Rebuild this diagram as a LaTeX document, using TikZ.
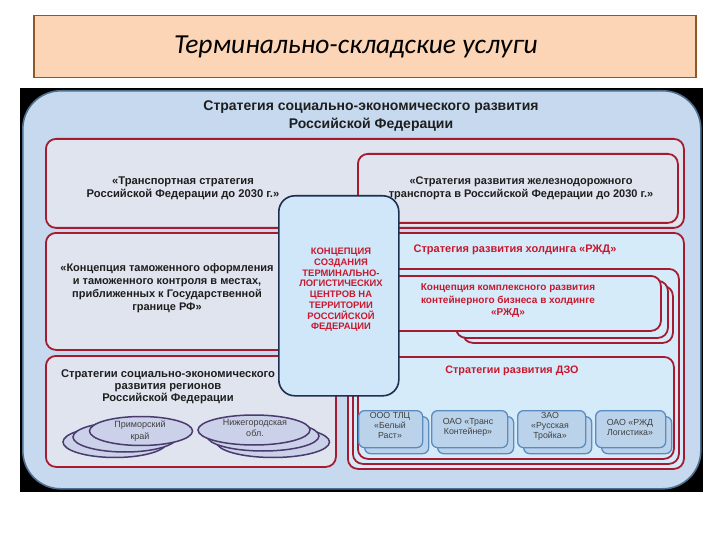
\documentclass[tikz,border=0pt]{standalone}
\usepackage{fontspec}
\setmainfont{Liberation Sans}
\newfontfamily\titlefont{Carlito}
\newfontfamily\condfont{Liberation Sans}
\usetikzlibrary{shapes.geometric}
\definecolor{peach}{HTML}{FBD5B5}
\definecolor{brownb}{HTML}{8B5A2B}
\definecolor{bigfill}{HTML}{C6D9EF}
\definecolor{bigline}{HTML}{4F6F8F}
\definecolor{boxred}{HTML}{A51C30}
\definecolor{txtred}{HTML}{C8182E}
\definecolor{grayfill}{HTML}{DFE4EE}
\definecolor{cyanfill}{HTML}{D5EBFA}
\definecolor{centfill}{HTML}{CFE7F8}
\definecolor{navy}{HTML}{1F2F50}
\definecolor{ellfill}{HTML}{CBD1E8}
\definecolor{elline}{HTML}{4A3A6E}
\definecolor{smfill}{HTML}{BAD3EA}
\definecolor{smline}{HTML}{5B8CC0}
\definecolor{hdr}{HTML}{1E1E1E}
\newcommand\boxat[6]{\node[#2, anchor=north west, inner sep=0pt, minimum width={(#5-#3)*1pt}, minimum height={(#6-#4)*1pt}] (#1) at (#3,#4) {};}
\tikzset{
  titlebox/.style={draw=brownb, line width=1.5pt, fill=peach},
  bigbox/.style={draw=bigline, line width=1.6pt, fill=bigfill, rounded corners=38pt},
  redgray/.style={draw=boxred, line width=1.8pt, fill=grayfill, rounded corners=10pt},
  redcyan/.style={draw=boxred, line width=1.8pt, fill=cyanfill, rounded corners=10pt},
  centbox/.style={draw=navy, line width=1.6pt, fill=centfill, rounded corners=16pt},
  oval/.style={ellipse, draw=elline, line width=1.5pt, fill=ellfill, inner sep=0pt},
  smbox/.style={draw=smline, line width=1.3pt, fill=smfill, rounded corners=6pt},
  hdrtxt/.style={align=center, text=hdr, inner sep=0pt},
  redtxt/.style={align=center, text=txtred, inner sep=0pt},
  smtxt/.style={align=center, text=hdr!85, inner sep=0pt, font=\fontsize{8.8}{10}\selectfont},
}
\begin{document}
\begin{tikzpicture}[x=1pt,y=-1pt]
\useasboundingbox (0,0) rectangle (720,540);
\fill[white] (0,0) rectangle (720,540);
% title
\boxat{title}{titlebox}{33}{15}{695}{77}
\node[inner sep=0pt, font=\titlefont\itshape\fontsize{27.5}{30}\selectfont] (titletxt) at (356,47) {Терминально-складские услуги};
% picture background
\fill[black] (20,88) rectangle (703,492);
\boxat{big}{bigbox}{22}{90}{700}{488}
\node[hdrtxt, font=\condfont\bfseries\fontsize{14}{18}\selectfont] (hdr) at (371,116) {Стратегия социально-экономического развития\\Российской Федерации};
% row 1
\boxat{r1}{redgray}{45}{138}{683}{227}
\boxat{r1r}{redgray}{357}{153}{677}{222}
\node[hdrtxt, font=\condfont\bfseries\fontsize{11.2}{12.8}\selectfont] (t1) at (183,188) {«Транспортная стратегия\\Российской Федерации до 2030 г.»};
\node[hdrtxt, font=\condfont\bfseries\fontsize{11}{12.8}\selectfont] (t1r) at (521,188) {«Стратегия развития железнодорожного\\транспорта в Российской Федерации до 2030 г.»};
% row 2 left
\boxat{r2l}{redgray}{45}{232}{338}{349}
\node[hdrtxt, font=\condfont\bfseries\fontsize{11}{13.2}\selectfont] (t2l) at (167,288) {«Концепция таможенного оформления\\и таможенного контроля в местах,\\приближенных к Государственной\\границе РФ»};
% right column
\boxat{ra}{redcyan}{347}{232}{683}{468}
\node[redtxt, font=\condfont\bfseries\fontsize{11}{12.5}\selectfont] (tra) at (515,250) {Стратегия развития холдинга «РЖД»};
\boxat{rb}{redcyan}{352}{268}{678}{463}
\boxat{k3}{redcyan}{462}{285}{672}{342}
\boxat{k2}{redcyan}{455}{280}{667}{337}
\boxat{k1}{redcyan}{356}{275}{660}{330}
\node[redtxt, font=\condfont\bfseries\fontsize{10}{12.5}\selectfont] (tk) at (508,301) {Концепция комплексного развития\\контейнерного бизнеса в холдинге\\«РЖД»};
\boxat{dzo}{redcyan}{357}{356}{673}{458}
\node[redtxt, font=\condfont\bfseries\fontsize{10.8}{12.5}\selectfont] (tdzo) at (512,371) {Стратегии развития ДЗО};
% small boxes
\boxat{s1b}{smbox}{364}{416}{428}{453}
\boxat{s1}{smbox}{358}{410}{422}{447}
\boxat{s2b}{smbox}{437}{416}{513}{453}
\boxat{s2}{smbox}{431}{410}{507}{447}
\boxat{s3b}{smbox}{523}{416}{591}{453}
\boxat{s3}{smbox}{517}{410}{585}{447}
\boxat{s4b}{smbox}{601}{416}{671}{453}
\boxat{s4}{smbox}{595}{410}{665}{447}
\node[smtxt] (ts1) at (390,425) {ООО ТЛЦ\\«Белый\\Раст»};
\node[smtxt] (ts2) at (468,427) {ОАО «Транс\\Контейнер»};
\node[smtxt] (ts3) at (550,426) {ЗАО\\«Русская\\Тройка»};
\node[smtxt] (ts4) at (630,427) {ОАО «РЖД\\Логистика»};
% row 3 left
\boxat{r3l}{redgray}{45}{355}{335}{466}
\node[hdrtxt, font=\condfont\bfseries\fontsize{11.2}{11.8}\selectfont] (t3l) at (168,387) {Стратегии социально-экономического\\развития регионов\\Российской Федерации};
\node[oval, minimum width=104pt, minimum height=31pt] (e1c) at (115,442) {};
\node[oval, minimum width=104pt, minimum height=30pt] (e1b) at (125,437) {};
\node[oval, minimum width=103pt, minimum height=29pt] (e1a) at (141,431) {};
\node[smtxt, font=\fontsize{9}{11.5}\selectfont] (te1) at (140,431) {Приморский\\край};
\node[oval, minimum width=113pt, minimum height=31pt] (e2c) at (273,442) {};
\node[oval, minimum width=112pt, minimum height=30pt] (e2b) at (263,436) {};
\node[oval, minimum width=112pt, minimum height=30pt] (e2a) at (254,430) {};
\node[smtxt, font=\fontsize{9}{10.5}\selectfont] (te2) at (255,428) {Нижегородская\\обл.};
% centre
\boxat{cent}{centbox}{278}{195}{398}{395}
\node[redtxt, font=\condfont\bfseries\fontsize{9.4}{10.7}\selectfont] (tc) at (341,290) {КОНЦЕПЦИЯ\\СОЗДАНИЯ\\ТЕРМИНАЛЬНО-\\ЛОГИСТИЧЕСКИХ\\ЦЕНТРОВ НА\\ТЕРРИТОРИИ\\РОССИЙСКОЙ\\ФЕДЕРАЦИИ};
\end{tikzpicture}
\end{document}
